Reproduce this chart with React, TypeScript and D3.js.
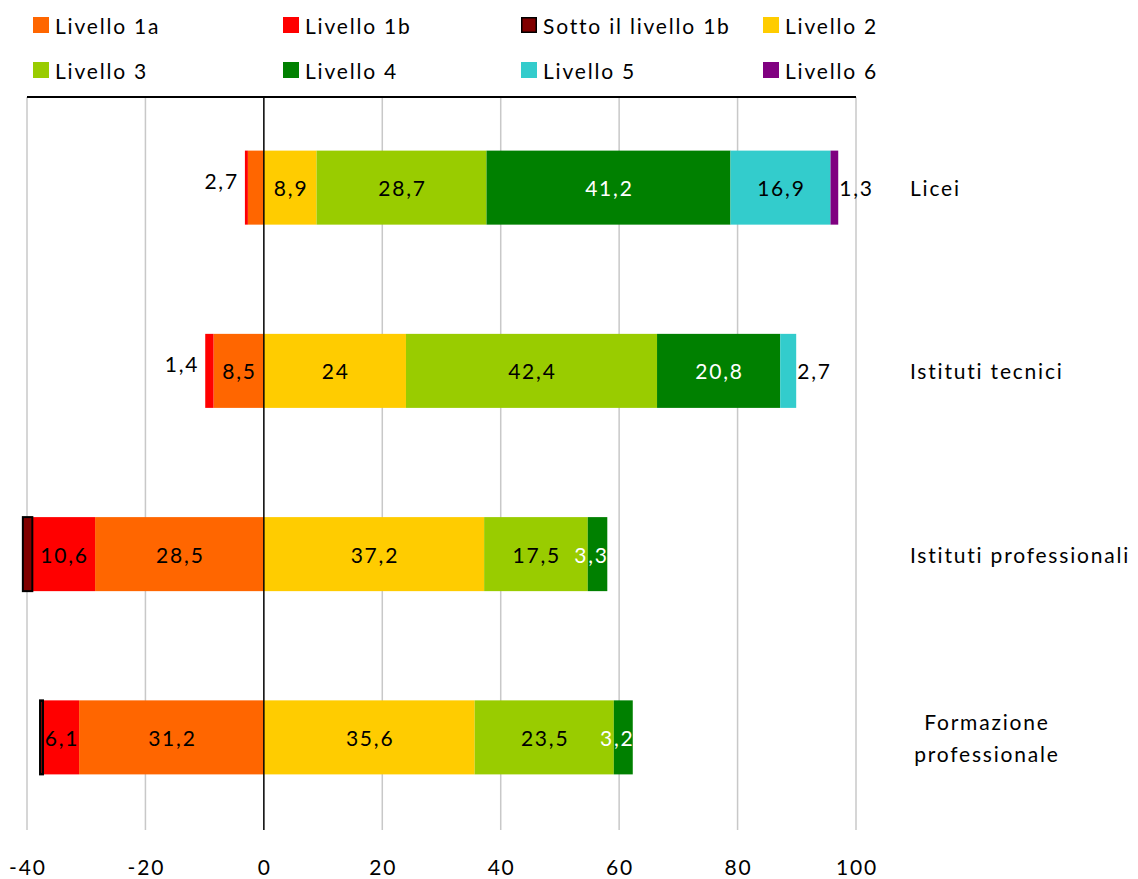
import React from "react";
import * as d3 from "d3";

// Categories (top to bottom)
const categories = ["Licei", "Istituti tecnici", "Istituti professionali", "Formazione professionale"];
const categoryLines = [["Licei"], ["Istituti tecnici"], ["Istituti professionali"], ["Formazione", "professionale"]];

// Series below the threshold (drawn to the left of zero), from zero outwards
const livello1a = [2.7, 8.5, 28.5, 31.2];
const livello1b = [0.5, 1.4, 10.6, 6.1];
const sotto1b = [0, 0, 1.6, 0.5];

// Series at or above level 2 (drawn to the right of zero)
const livello2 = [8.9, 24, 37.2, 35.6];
const livello3 = [28.7, 42.4, 17.5, 23.5];
const livello4 = [41.2, 20.8, 3.3, 3.2];
const livello5 = [16.9, 2.7, 0, 0];
const livello6 = [1.3, 0, 0, 0];

const xTicks = [-40, -20, 0, 20, 40, 60, 80, 100];

type Series = { name: string; values: number[]; color: string; side: -1 | 1; labelled: boolean; textColor: string; stroke?: string };

const negSeries: Series[] = [
  { name: "Livello 1a", values: livello1a, color: "#FF6600", side: -1, labelled: true, textColor: "#000" },
  { name: "Livello 1b", values: livello1b, color: "#FF0000", side: -1, labelled: true, textColor: "#000" },
  { name: "Sotto il livello 1b", values: sotto1b, color: "#800000", side: -1, labelled: false, textColor: "#000", stroke: "#000" },
];
const posSeries: Series[] = [
  { name: "Livello 2", values: livello2, color: "#FFCC00", side: 1, labelled: true, textColor: "#000" },
  { name: "Livello 3", values: livello3, color: "#99CC00", side: 1, labelled: true, textColor: "#000" },
  { name: "Livello 4", values: livello4, color: "#008000", side: 1, labelled: true, textColor: "#fff" },
  { name: "Livello 5", values: livello5, color: "#33CCCC", side: 1, labelled: true, textColor: "#000" },
  { name: "Livello 6", values: livello6, color: "#800080", side: 1, labelled: true, textColor: "#000" },
];

const legendOrder = [
  negSeries[0], negSeries[1], negSeries[2], posSeries[0],
  posSeries[1], posSeries[2], posSeries[3], posSeries[4],
];

const FONT = "Lato, 'Open Sans', sans-serif";
const LS = 1.8;

export default function App() {
  const width = 1138;
  const height = 879;
  const x = d3.scaleLinear().domain([-40, 100]).range([27, 856]);
  const y = d3.scaleBand<string>().domain(categories).range([96, 829]).paddingInner(0.596).paddingOuter(0.298);
  const bw = y.bandwidth();

  const fmt = (v: number) => String(v).replace(".", ",");

  const rects: React.ReactNode[] = [];
  const labels: React.ReactNode[] = [];

  categories.forEach((cat, ci) => {
    const y0 = y(cat)!;
    const cy = y0 + bw / 2;
    const negTotal = d3.sum(negSeries, (s) => s.values[ci]);
    const posTotal = d3.sum(posSeries, (s) => s.values[ci]);
    [negSeries, posSeries].forEach((group) => {
      let acc = 0;
      group.forEach((s) => {
        const v = s.values[ci];
        if (v <= 0) return;
        const a = acc * s.side;
        const b = (acc + v) * s.side;
        acc += v;
        const x0 = x(Math.min(a, b));
        const x1 = x(Math.max(a, b));
        const w = x1 - x0;
        rects.push(
          <rect key={`${s.name}-${ci}`} x={x0} y={y0} width={w} height={bw} fill={s.color}
            stroke={s.stroke ?? "none"} strokeWidth={s.stroke ? 2 : 0} />
        );
        if (!s.labelled || v < 1) return;
        if (w < 18) {
          // narrow segments get their label just past the end of the bar
          if (s.side < 0) {
            labels.push(
              <text key={`l-${s.name}-${ci}`} x={x(-negTotal) - 6} y={cy - 7} textAnchor="end"
                dominantBaseline="central" fill="#000">{fmt(v)}</text>
            );
          } else {
            labels.push(
              <text key={`l-${s.name}-${ci}`} x={x(posTotal) + 1} y={cy} textAnchor="start"
                dominantBaseline="central" fill="#000">{fmt(v)}</text>
            );
          }
        } else {
          const dx = w < 25 ? -7 : 0;
          labels.push(
            <text key={`l-${s.name}-${ci}`} x={(x0 + x1) / 2 + dx + LS / 2} y={cy} textAnchor="middle"
              dominantBaseline="central" fill={s.textColor}>{fmt(v)}</text>
          );
        }
      });
    });
  });

  const legendX = [33, 283, 521, 763];
  const legendY = [25, 70];

  return (
    <svg width={width} height={height} style={{ position: "absolute", left: 0, top: 0, background: "#fff" }}
      fontFamily={FONT} fontSize={21} letterSpacing={LS}>
      {/* legend */}
      {legendOrder.map((s, i) => {
        const lx = legendX[i % 4];
        const ly = legendY[Math.floor(i / 4)];
        return (
          <g key={s.name}>
            <rect x={lx + (s.stroke ? 0.75 : 0)} y={ly - 8 + (s.stroke ? 0.75 : 0)} width={s.stroke ? 14.5 : 16} height={s.stroke ? 14.5 : 16}
              fill={s.color} stroke={s.stroke ?? "none"} strokeWidth={s.stroke ? 1.5 : 0} />
            <text x={lx + 22} y={ly} dominantBaseline="central" fill="#000">{s.name}</text>
          </g>
        );
      })}

      {/* vertical gridlines */}
      {xTicks.filter((t) => t !== 0).map((t) => (
        <line key={`g${t}`} x1={x(t)} x2={x(t)} y1={97} y2={830} stroke="#c8c8c8" strokeWidth={1.5} />
      ))}

      {rects}

      {/* zero line and top axis line */}
      <line x1={x(0)} x2={x(0)} y1={97} y2={830} stroke="#000" strokeWidth={1.5} />
      <line x1={x(-40)} x2={x(100)} y1={97} y2={97} stroke="#000" strokeWidth={2} />

      {labels}

      {/* tick labels */}
      {xTicks.map((t) => (
        <text key={`t${t}`} x={x(t) + LS / 2} y={866} textAnchor="middle" dominantBaseline="central" fill="#000">{t}</text>
      ))}

      {/* category labels */}
      {categories.map((cat, ci) => {
        const cy = y(cat)! + bw / 2;
        const lines = categoryLines[ci];
        if (lines.length === 1) {
          return (
            <text key={cat} x={910} y={cy} dominantBaseline="central" fill="#000">{lines[0]}</text>
          );
        }
        return (
          <text key={cat} x={986} textAnchor="middle" fill="#000">
            {lines.map((ln, li) => (
              <tspan key={ln} x={986 + LS / 2} y={cy - 16 + li * 32} dominantBaseline="central">{ln}</tspan>
            ))}
          </text>
        );
      })}
    </svg>
  );
}
